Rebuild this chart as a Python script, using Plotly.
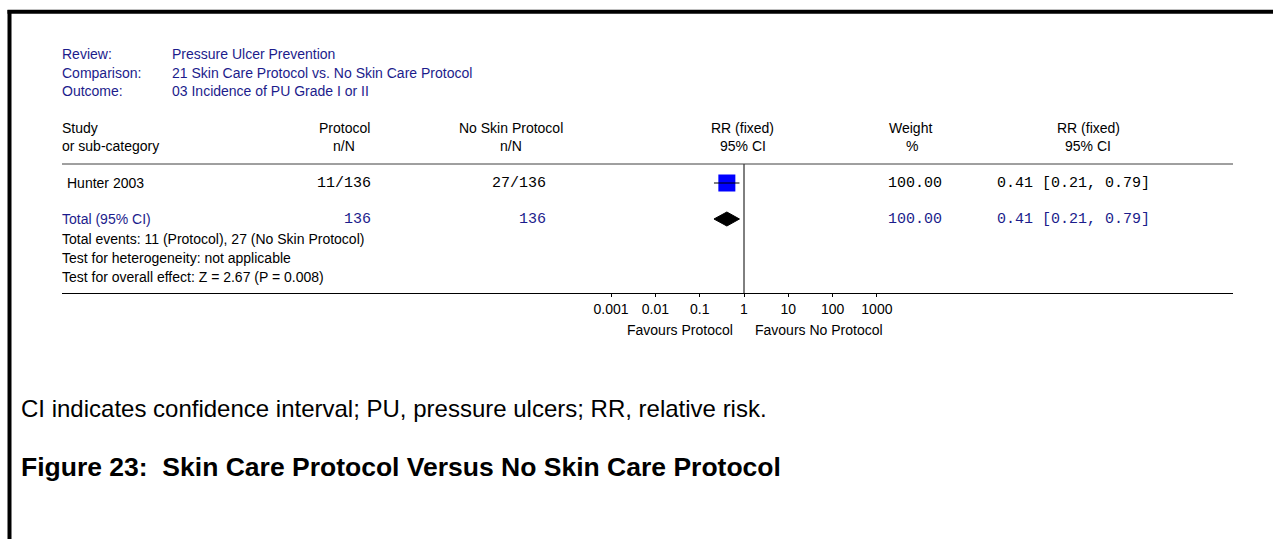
import plotly.graph_objects as go

# ---------------- data ----------------
review = "Pressure Ulcer Prevention"
comparison = "21 Skin Care Protocol vs. No Skin Care Protocol"
outcome = "03 Incidence of PU Grade I or II"

studies = ["Hunter 2003"]
prot_n = [11]
prot_N = [136]
ctrl_n = [27]
ctrl_N = [136]
rr = [0.41]
rr_lo = [0.21]
rr_hi = [0.79]
weights = [100.00]

total_rr = 0.41
total_lo = 0.21
total_hi = 0.79
total_prot_N = 136
total_ctrl_N = 136
total_weight = 100.00

tick_vals = [0.001, 0.01, 0.1, 1, 10, 100, 1000]
tick_labels = ["0.001", "0.01", "0.1", "1", "10", "100", "1000"]

footer_lines = [
    "Total events: 11 (Protocol), 27 (No Skin Protocol)",
    "Test for heterogeneity: not applicable",
    "Test for overall effect: Z = 2.67 (P = 0.008)",
]
caption = "CI indicates confidence interval; PU, pressure ulcers; RR, relative risk."
fig_title = "Figure 23:\u00a0 Skin Care Protocol Versus No Skin Care Protocol"

# ---------------- layout constants ----------------
W, H = 1273, 539
NAVY = "#1c1c8c"
SANS = "Liberation Sans, Arial, sans-serif"
MONO = "Liberation Mono, Courier New, monospace"
FS = 14
FM = 15


def px(x):
    return x / W


X0, X1 = 62, 1233        # table span (pixels)
X_ONE = 744              # pixel of RR = 1
DEC = 44.3               # pixels per decade
AX_Y = 293               # axis line pixel
HDR_Y = 164              # header rule pixel
row_y = [183]
total_y = 219

fig = go.Figure()

# reference line at RR = 1
fig.add_trace(go.Scatter(x=[1, 1], y=[HDR_Y, AX_Y], mode="lines",
                         line=dict(color="black", width=1), hoverinfo="skip"))

# study squares + CI lines
for i in range(len(studies)):
    fig.add_trace(go.Scatter(x=[rr[i]], y=[row_y[i]], mode="markers",
                             marker=dict(symbol="square", size=17, color="#0000ff",
                                         line=dict(width=0)), hoverinfo="skip"))
    fig.add_trace(go.Scatter(x=[rr_lo[i], rr_hi[i]], y=[row_y[i], row_y[i]], mode="lines",
                             line=dict(color="black", width=1), hoverinfo="skip"))

# total diamond
fig.add_trace(go.Scatter(x=[total_lo, total_rr, total_hi, total_rr, total_lo],
                         y=[total_y, total_y - 7, total_y, total_y + 7, total_y],
                         mode="lines", fill="toself", fillcolor="black",
                         line=dict(color="black", width=1), hoverinfo="skip"))

ann = []


def text(x, y, s, color="black", size=FS, family=SANS, anchor="left", bold=False):
    ann.append(dict(x=px(x), y=y, xref="paper", yref="y", text=("<b>%s</b>" % s) if bold else s,
                    showarrow=False, xanchor=anchor, yanchor="middle",
                    font=dict(family=family, size=size, color=color)))


# review block
text(60, 54, "Review:", NAVY)
text(60, 73, "Comparison:", NAVY)
text(60, 91, "Outcome:", NAVY)
text(170, 54, review, NAVY)
text(170, 73, comparison, NAVY)
text(170, 91, outcome, NAVY)

# headers
text(60, 128, "Study")
text(60, 146, "or sub-category")
text(344, 128, "Protocol", anchor="center")
text(344, 146, "n/N", anchor="center")
text(511, 128, "No Skin Protocol", anchor="center")
text(511, 146, "n/N", anchor="center")
text(743, 128, "RR (fixed)", anchor="center")
text(743, 146, "95% CI", anchor="center")
text(910, 128, "Weight", anchor="center")
text(912, 146, "%", anchor="center")
text(1088, 128, "RR (fixed)", anchor="center")
text(1088, 146, "95% CI", anchor="center")

# study rows
for i, s in enumerate(studies):
    y = row_y[i]
    text(65, y, s)
    text(373, y, "%d/%d" % (prot_n[i], prot_N[i]), family=MONO, size=FM, anchor="right")
    text(548, y, "%d/%d" % (ctrl_n[i], ctrl_N[i]), family=MONO, size=FM, anchor="right")
    text(886, y, "%.2f" % weights[i], family=MONO, size=FM)
    text(995, y, "%.2f [%.2f, %.2f]" % (rr[i], rr_lo[i], rr_hi[i]), family=MONO, size=FM)

# total row
text(60, total_y, "Total (95% CI)", NAVY)
text(373, total_y, "%d" % total_prot_N, NAVY, family=MONO, size=FM, anchor="right")
text(548, total_y, "%d" % total_ctrl_N, NAVY, family=MONO, size=FM, anchor="right")
text(886, total_y, "%.2f" % total_weight, NAVY, family=MONO, size=FM)
text(995, total_y, "%.2f [%.2f, %.2f]" % (total_rr, total_lo, total_hi), NAVY, family=MONO, size=FM)

for k, line in enumerate(footer_lines):
    text(60, 239 + 19 * k, line)

# favours labels
text(680, 330, "Favours Protocol", anchor="center")
text(819, 330, "Favours No Protocol", anchor="center")

# caption + title
text(19, 408, caption, size=24)
text(19, 467, fig_title, size=26.5, bold=True)

shapes = [
    # header rule
    dict(type="line", xref="paper", yref="y", x0=px(X0), x1=px(X1), y0=HDR_Y, y1=HDR_Y,
         line=dict(color="#404040", width=1)),
    # frame (left and top)
    dict(type="line", xref="paper", yref="paper", x0=px(9.5), x1=px(9.5), y0=0, y1=1 - 10 / H,
         line=dict(color="black", width=4)),
    dict(type="line", xref="paper", yref="paper", x0=px(7.5), x1=1, y0=1 - 11.8 / H, y1=1 - 11.8 / H,
         line=dict(color="black", width=4)),
]

lo_log = (X0 - X_ONE) / DEC
hi_log = (X1 - X_ONE) / DEC

fig.update_layout(
    width=W, height=H,
    margin=dict(l=0, r=0, t=0, b=0),
    paper_bgcolor="white", plot_bgcolor="white",
    showlegend=False,
    annotations=ann,
    shapes=shapes,
    xaxis=dict(type="log", range=[lo_log, hi_log], domain=[px(X0), px(X1)],
               anchor="free", position=1 - AX_Y / H,
               showline=True, linecolor="black", linewidth=1,
               tickvals=tick_vals, ticktext=tick_labels,
               ticks="outside", ticklen=3, tickcolor="black", tickwidth=1,
               tickfont=dict(family=SANS, size=FS, color="black"),
               showgrid=False, zeroline=False, fixedrange=True),
    yaxis=dict(range=[H, 0], domain=[0, 1], visible=False, fixedrange=True),
)

fig.write_html("out.html", config={"displayModeBar": False},
               post_script="document.body.style.margin='0';")
